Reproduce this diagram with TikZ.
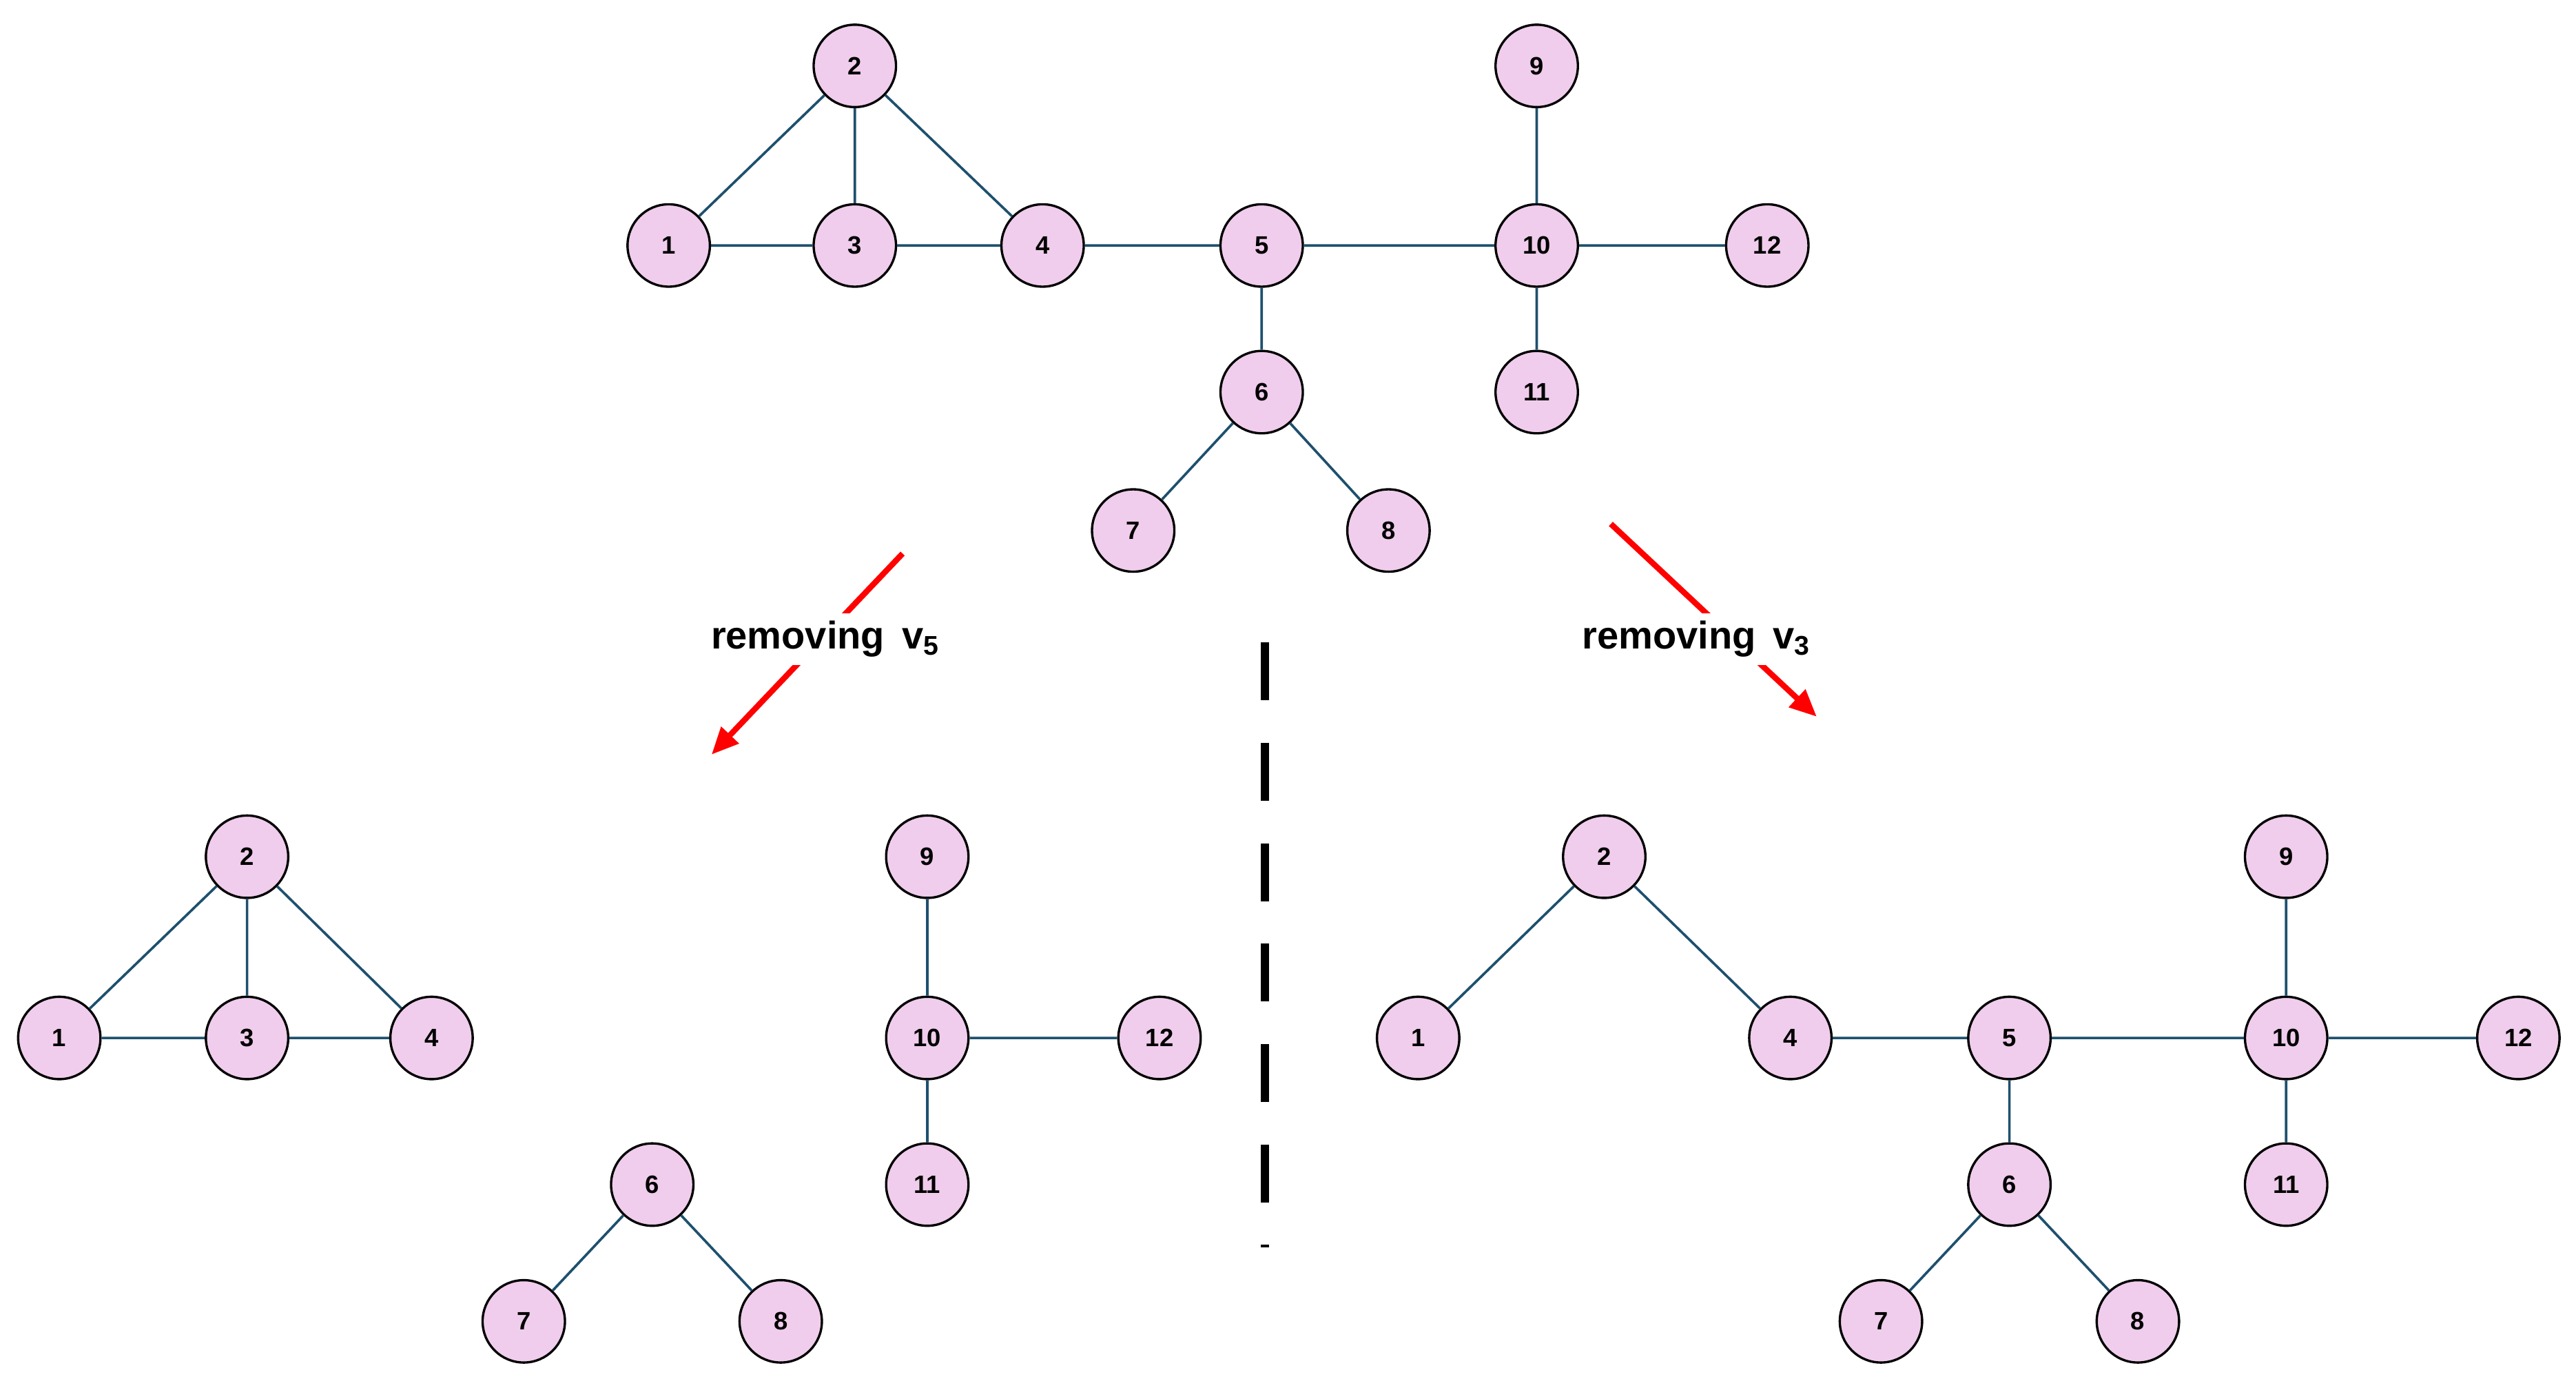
\documentclass[tikz,border=0pt]{standalone}
\usepackage{fontspec}
\setmainfont{Liberation Sans}
\usetikzlibrary{arrows.meta}
\begin{document}
\begin{tikzpicture}[x=0.03cm,y=-0.03cm,
  v/.style={circle,draw=black,line width=1.2pt,fill=pink!40!violet!20,fill={rgb,255:red,240;green,205;blue,236},minimum size=1.5cm,inner sep=0pt,font=\bfseries\fontsize{13}{13}\selectfont},
  e/.style={draw={rgb,255:red,30;green,80;blue,110},line width=1.3pt},
  red arrow/.style={draw=red,line width=3pt,-{Triangle[length=14pt,width=12pt]}},
  lab/.style={font=\bfseries\fontsize{20}{20}\selectfont,fill=white,inner sep=4pt}]
\useasboundingbox (0,0) rectangle (1564,837);
% top graph
\node[v] (t2) at (519,40) {2};
\node[v] (t1) at (406,149) {1};
\node[v] (t3) at (519,149) {3};
\node[v] (t4) at (633,149) {4};
\node[v] (t5) at (766,149) {5};
\node[v] (t10) at (933,149) {10};
\node[v] (t9) at (933,40) {9};
\node[v] (t12) at (1073,149) {12};
\node[v] (t11) at (933,238) {11};
\node[v] (t6) at (766,238) {6};
\node[v] (t7) at (688,322) {7};
\node[v] (t8) at (843,322) {8};
\begin{scope}[on background layer/.try]
\end{scope}
\path[e] (t2)--(t1) (t2)--(t3) (t2)--(t4) (t1)--(t3) (t3)--(t4) (t4)--(t5) (t5)--(t10) (t10)--(t9) (t10)--(t12) (t10)--(t11) (t5)--(t6) (t6)--(t7) (t6)--(t8);
% bottom left
\node[v] (a2) at (150,520) {2};
\node[v] (a1) at (36,630) {1};
\node[v] (a3) at (150,630) {3};
\node[v] (a4) at (262,630) {4};
\node[v] (a9) at (563,520) {9};
\node[v] (a10) at (563,630) {10};
\node[v] (a12) at (704,630) {12};
\node[v] (a11) at (563,719) {11};
\node[v] (a6) at (396,719) {6};
\node[v] (a7) at (318,802) {7};
\node[v] (a8) at (474,802) {8};
\path[e] (a2)--(a1) (a2)--(a3) (a2)--(a4) (a1)--(a3) (a3)--(a4) (a10)--(a9) (a10)--(a12) (a10)--(a11) (a6)--(a7) (a6)--(a8);
% bottom right
\node[v] (b2) at (974,520) {2};
\node[v] (b1) at (861,630) {1};
\node[v] (b4) at (1087,630) {4};
\node[v] (b5) at (1220,630) {5};
\node[v] (b10) at (1388,630) {10};
\node[v] (b9) at (1388,520) {9};
\node[v] (b12) at (1529,630) {12};
\node[v] (b11) at (1388,719) {11};
\node[v] (b6) at (1220,719) {6};
\node[v] (b7) at (1142,802) {7};
\node[v] (b8) at (1298,802) {8};
\path[e] (b2)--(b1) (b2)--(b4) (b4)--(b5) (b5)--(b10) (b10)--(b9) (b10)--(b12) (b10)--(b11) (b5)--(b6) (b6)--(b7) (b6)--(b8);
% arrows
\coordinate (l1) at (548,336); \coordinate (l2) at (432,458);
\coordinate (r1) at (978,318); \coordinate (r2) at (1103,435);
\draw[red arrow] (l1)--(l2);
\draw[red arrow] (r1)--(r2);
\node[lab] (lv5) at (501,388) {removing\, v\textsubscript{5}};
\node[lab] (lv3) at (1030,388) {removing\, v\textsubscript{3}};
% divider
\coordinate (d1) at (768,390); \coordinate (d2) at (768,757);
\draw[line width=4pt,dash pattern=on 30pt off 22pt] (d1)--(d2);
\end{tikzpicture}
\end{document}
